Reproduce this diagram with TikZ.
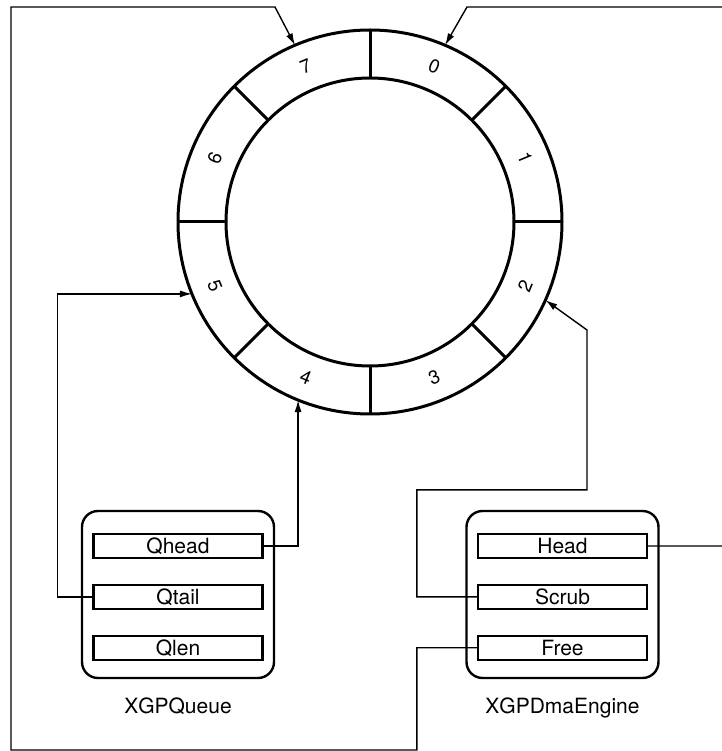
\documentclass[tikz,border=0pt]{standalone}
\usepackage{fontspec}
\setmainfont{TeX Gyre Heros}
\usetikzlibrary{arrows.meta, positioning}

\begin{document}
\begin{tikzpicture}[
  x=0.5pt, y=0.5pt,
  field/.style={draw, line width=1.2pt, minimum width=84.5pt, minimum height=12pt, inner sep=0pt, font=\fontsize{10.5}{12}\selectfont},
  panel/.style={draw, line width=1.2pt, rounded corners=8pt, minimum width=96pt, minimum height=83.5pt, inner sep=0pt},
  caption/.style={font=\fontsize{10.5}{12}\selectfont},
  slot/.style={font=\fontsize{9.5}{11}\selectfont},
  ringline/.style={line width=1.5pt},
  wire/.style={line width=0.7pt},
  link/.style={line width=0.7pt, -{Latex[length=6pt,width=3.5pt]}},
  node distance=12.25pt
]
\useasboundingbox (0,0) rectangle (722,751);

\coordinate (ring) at (370,529);
\draw[ringline] (ring) circle[radius=192];
\draw[ringline] (ring) circle[radius=144];
\foreach \a in {0,45,...,315}
  \draw[ringline] (ring) ++(\a:144) -- ++(\a:48);
\foreach \n/\a/\r in {0/67.5/-22.5, 1/22.5/-67.5, 2/-22.5/67.5, 3/-67.5/22.5,
                      4/-112.5/-22.5, 5/-157.5/-67.5, 6/157.5/67.5, 7/112.5/22.5}
  \path (ring) ++(\a:168) node[slot, rotate=\r] (slot\n) {\n};

\path (ring) ++(67:192)  coordinate (s0);
\path (ring) ++(-24:192) coordinate (s2);
\path (ring) ++(248:192) coordinate (s4);
\path (ring) ++(202:192) coordinate (s5);
\path (ring) ++(113:192) coordinate (s7);

\node[panel] (qpanel) at (178,156.5) {};
\node[field] (qhead) at (178,205) {Qhead};
\node[field, below=of qhead] (qtail) {Qtail};
\node[field, below=of qtail] (qlen)  {Qlen};
\node[caption, below=6pt of qpanel] (qname) {XGPQueue};

\node[panel] (dpanel) at (562.5,156.5) {};
\node[field] (head) at (562.5,205) {Head};
\node[field, below=of head]  (scrub) {Scrub};
\node[field, below=of scrub] (free)  {Free};
\node[caption, below=6pt of dpanel] (dname) {XGPDmaEngine};

\coordinate (bl) at (11,1);
\coordinate (tl) at (275,744);
\coordinate (tr) at (467,744);
\coordinate (br) at (724,205);
\coordinate (sb) at (587,421);

\draw[link] (qhead.east) -| (s4);
\draw[link] (qtail.west) -- ++(-35,0) |- (s5);
\draw[link] (scrub.west) -- ++(-60,0) -- ++(0,107) -| (sb) -- (s2);
\draw[link] (free.west) -- ++(-60,0) |- (bl) |- (tl) -- (s7);
\draw[link] (head.east) -- (br) |- (tr) -- (s0);
\end{tikzpicture}
\end{document}
